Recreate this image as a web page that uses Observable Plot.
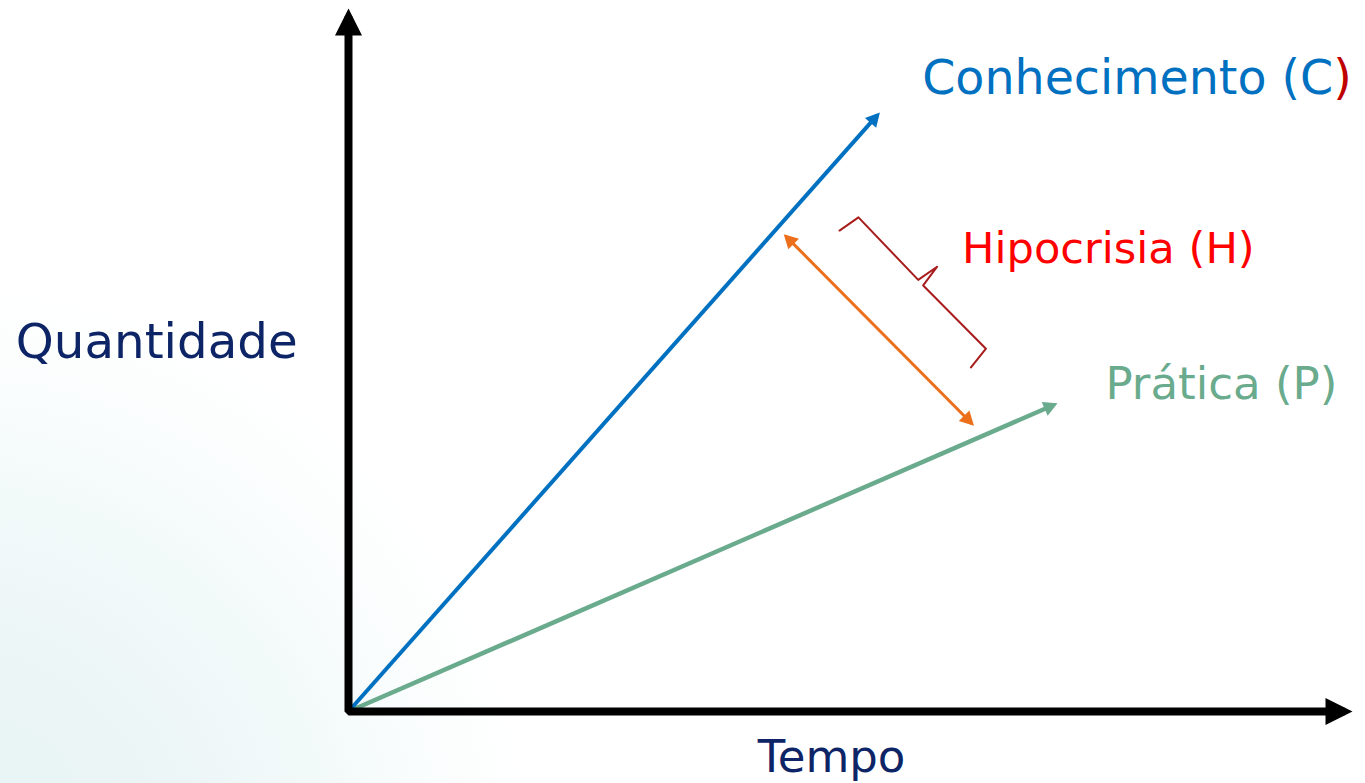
<!DOCTYPE html>
<html>
<head>
<meta charset="utf-8">
<script src="https://cdn.jsdelivr.net/npm/d3@7"></script>
<script src="https://cdn.jsdelivr.net/npm/@observablehq/plot@0.6"></script>
<style>
  html, body { margin: 0; padding: 0; overflow: hidden; }
  body {
    width: 1365px; height: 783px;
    background: radial-gradient(circle at -60px 880px, #e6f3f4 0px, #ebf5f6 220px, #f2f9f9 380px, #fafdfd 500px, #ffffff 600px);
  }
  #chart svg { display: block; background: transparent; }
</style>
</head>
<body>
<div id="chart"></div>
<script>
// ---- data (arbitrary units: Tempo on x, Quantidade on y) ----
const conhecimento = [ {t: 0, q: 0}, {t: 53.1, q: 85.8} ];
const pratica      = [ {t: 0, q: 0}, {t: 70.8, q: 44.1} ];
const hipocrisia   = [ {t: 43.9, q: 68.4}, {t: 62.6, q: 41.4} ];
const chave        = [
  {t: 49.3, q: 69.2}, {t: 51.2, q: 71.1}, {t: 57.2, q: 62.1},
  {t: 59.1, q: 64.0}, {t: 57.7, q: 61.3}, {t: 64.0, q: 52.2}, {t: 62.5, q: 49.5}
];
const eixos        = [ {t: 100, q: 0}, {t: 0, q: 0}, {t: 0, q: 100} ];

const labelConhecimento = {t: 57.6, q: 88.9, text: "Conhecimento (C"};
const labelHipocrisia   = {t: 61.6, q: 64.6, text: "Hipocrisia (H)"};
const labelPratica      = {t: 76.0, q: 45.0, text: "Prática (P)"};
const labelQuantidade   = {t: -33.4, q: 50.9, text: "Quantidade"};
const labelTempo        = {t: 41.1, q: -8.7, text: "Tempo"};

const FONT = "DejaVu Sans";

// filled triangular arrow head marker
function head(L, W, w) {
  const d = w * L / W;
  return (color) => {
    const ns = "http://www.w3.org/2000/svg";
    const m = document.createElementNS(ns, "marker");
    m.setAttribute("viewBox", `${d - L - 1} ${-W / 2 - 1} ${L + 2} ${W + 2}`);
    m.setAttribute("markerWidth", L + 2);
    m.setAttribute("markerHeight", W + 2);
    m.setAttribute("refX", 0);
    m.setAttribute("refY", 0);
    m.setAttribute("orient", "auto-start-reverse");
    m.setAttribute("markerUnits", "userSpaceOnUse");
    m.setAttribute("overflow", "visible");
    const p = document.createElementNS(ns, "path");
    p.setAttribute("d", `M${d},0L${d - L},${-W / 2}L${d - L},${W / 2}Z`);
    p.setAttribute("fill", color);
    p.setAttribute("stroke", "none");
    m.appendChild(p);
    return m;
  };
}

const ctx = document.createElement("canvas").getContext("2d");
ctx.font = `47.5px "${FONT}"`;
const wC = ctx.measureText(labelConhecimento.text).width;

const txt = (d, size, fill, extra = {}) => Plot.text([d], {
  x: "t", y: "q", text: "text", fill, fontSize: size, fontFamily: FONT,
  textAnchor: "start", lineAnchor: "bottom", ...extra
});

const chart = Plot.plot({
  width: 1365,
  height: 783,
  marginLeft: 348,
  marginRight: 21,
  marginTop: 16,
  marginBottom: 72,
  x: {domain: [0, 100], axis: null},
  y: {domain: [0, 100], axis: null},
  style: {background: "transparent", overflow: "visible"},
  marks: [
    Plot.line(pratica, {x: "t", y: "q", stroke: "#6aab8e", strokeWidth: 4.5, strokeLinecap: "butt", markerEnd: head(14, 15, 4.5)}),
    Plot.line(conhecimento, {x: "t", y: "q", stroke: "#0070c0", strokeWidth: 4, strokeLinecap: "butt", markerEnd: head(14, 15, 4)}),
    Plot.line(hipocrisia, {x: "t", y: "q", stroke: "#ec6f1c", strokeWidth: 3, strokeLinecap: "butt", markerStart: head(14, 15, 3), markerEnd: head(14, 15, 3)}),
    Plot.line(chave, {x: "t", y: "q", stroke: "#a81c1c", strokeWidth: 2, strokeLinejoin: "round", strokeLinecap: "round"}),
    Plot.line(eixos, {x: "t", y: "q", stroke: "black", strokeWidth: 8, strokeLinecap: "butt", strokeLinejoin: "miter", markerStart: head(27, 27, 8), markerEnd: head(27, 27, 8)}),
    txt(labelConhecimento, 47.5, "#0070c0"),
    txt({...labelConhecimento, text: ")"}, 47.5, "#c00000", {dx: wC}),
    txt(labelHipocrisia, 43.2, "#ff0000"),
    txt(labelPratica, 45.1, "#6aab8e"),
    txt(labelQuantidade, 48.3, "#0d2566"),
    txt(labelTempo, 45, "#0d2566")
  ]
});
document.getElementById("chart").appendChild(chart);
</script>
</body>
</html>
